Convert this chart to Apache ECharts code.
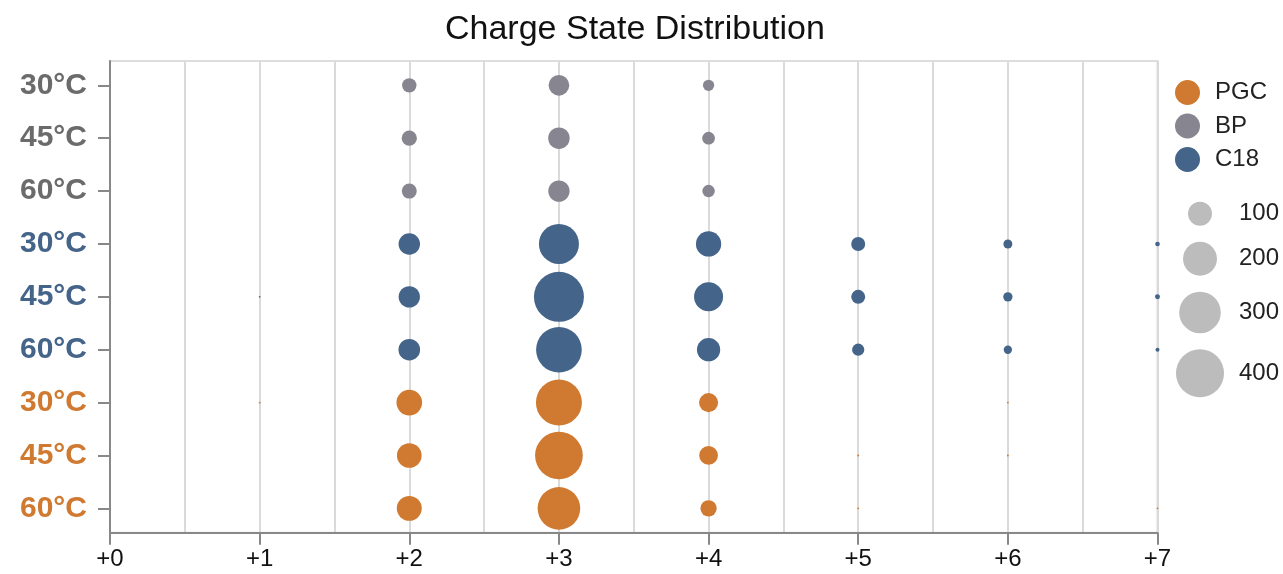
<!DOCTYPE html>
<html>
<head>
<meta charset="utf-8">
<title>Charge State Distribution</title>
<script src="https://cdn.jsdelivr.net/npm/echarts@6/dist/echarts.min.js"></script>
<style>
  html, body { margin: 0; padding: 0; background: #ffffff; }
  #chart { width: 1283px; height: 574px; }
</style>
</head>
<body>
<div id="chart"></div>
<script>
// Charge state tick labels (x axis)
const chargeLabels = ['+0', '+1', '+2', '+3', '+4', '+5', '+6', '+7'];

// Row labels, top to bottom, and the column type each row belongs to
const rowLabels = ['30°C', '45°C', '60°C', '30°C', '45°C', '60°C', '30°C', '45°C', '60°C'];
const rowGroups = ['BP', 'BP', 'BP', 'C18', 'C18', 'C18', 'PGC', 'PGC', 'PGC'];

// Abundance per charge state +0 .. +7
const bp30  = [0, 0,   36,  74,  22,  0,   0,   0];
const bp45  = [0, 0,   40,  80,  28,  0,   0,   0];
const bp60  = [0, 0,   39,  79,  27,  0,   0,   0];
const c18_30 = [0, 0,   80, 278, 111, 34,  14,  3.8];
const c18_45 = [0, 0.5, 79, 434, 146, 34,  15,  4.3];
const c18_60 = [0, 0,   81, 362,  94, 26,  12,  2.8];
const pgc30 = [0, 0.6, 114, 367, 63, 0,   0.6, 0];
const pgc45 = [0, 0,   106, 395, 61, 0.6, 0.6, 0];
const pgc60 = [0, 0,   108, 316, 46, 0.6, 0,   0.6];

// Values shown in the size legend
const sizeLegendValues = [100, 200, 300, 400];

const seriesNames = ['PGC', 'BP', 'C18'];
const colors = { PGC: '#CF7A30', BP: '#87858F', C18: '#44648A' };
const labelColors = { PGC: '#CF7A30', BP: '#6B6B6B', C18: '#44648A' };
const FONT = '"Liberation Sans", Arial, Helvetica, sans-serif';

// circle diameter in px, area proportional to value
function diameter(v) { return 2.4 * Math.sqrt(v); }

const rowsByGroup = {
  BP:  [[0, bp30], [1, bp45], [2, bp60]],
  C18: [[3, c18_30], [4, c18_45], [5, c18_60]],
  PGC: [[6, pgc30], [7, pgc45], [8, pgc60]]
};

function buildData(group) {
  const out = [];
  rowsByGroup[group].forEach(([row, vals]) => {
    vals.forEach((v, charge) => {
      if (v > 0) out.push([charge, row, v]);
    });
  });
  return out;
}

const chart = echarts.init(document.getElementById('chart'), null, { renderer: 'canvas' });

// size legend: stacked circles with labels on the right
const sizeGraphics = [];
let cy = 213.7;
sizeLegendValues.forEach((v, i) => {
  const r = diameter(v) / 2;
  if (i > 0) cy += diameter(sizeLegendValues[i - 1]) / 2 + 16 + r;
  sizeGraphics.push({
    type: 'circle',
    shape: { cx: 1200, cy: cy, r: r },
    style: { fill: '#BDBCBD' }
  });
  sizeGraphics.push({
    type: 'text',
    style: {
      text: String(v), x: 1279, y: cy, align: 'right', verticalAlign: 'middle',
      fontSize: 24, fontFamily: FONT, fill: '#222'
    }
  });
});

const rich = {};
Object.keys(labelColors).forEach(g => {
  rich[g] = { color: labelColors[g], fontSize: 30, fontWeight: 'bold', fontFamily: FONT };
});

const option = {
  animation: false,
  backgroundColor: '#ffffff',
  title: {
    text: 'Charge State Distribution',
    left: 445,
    top: 13,
    padding: 0,
    textStyle: { fontSize: 34, fontWeight: 'normal', color: '#111', fontFamily: FONT }
  },
  legend: {
    orient: 'vertical',
    left: 1175,
    top: 80,
    padding: 0,
    itemWidth: 25,
    itemHeight: 25,
    itemGap: 8.5,
    icon: 'circle',
    data: seriesNames,
    textStyle: { fontSize: 24, color: '#222', fontFamily: FONT, padding: [0, 0, 0, 10] }
  },
  grid: {
    left: 110,
    right: 125.5,
    top: 61,
    bottom: 41.3,
    show: true,
    borderColor: '#DDDDDD',
    borderWidth: 2
  },
  xAxis: [
    {
      type: 'value',
      min: 0,
      max: 7,
      interval: 1,
      position: 'bottom',
      axisLine: { show: true, onZero: false, lineStyle: { color: '#888', width: 2 } },
      axisTick: { show: true, length: 12, lineStyle: { color: '#888', width: 2 } },
      axisLabel: {
        margin: 15, fontSize: 24, color: '#111', fontFamily: FONT,
        formatter: v => chargeLabels[Math.round(v)]
      },
      splitLine: { show: true, lineStyle: { color: '#E3E3E3', width: 2 } }
    },
    {
      // half-step separators between charge states
      type: 'value',
      min: 0,
      max: 7,
      interval: 0.5,
      position: 'bottom',
      axisLine: { show: false, onZero: false },
      axisTick: { show: false },
      axisLabel: { show: false },
      splitLine: { show: true, lineStyle: { color: '#DADADA', width: 2 } }
    }
  ],
  yAxis: {
    type: 'value',
    inverse: true,
    min: -0.46,
    max: 8.46,
    position: 'left',
    axisLine: { show: true, onZero: false, lineStyle: { color: '#888', width: 2 } },
    axisTick: {
      show: true, length: 12, lineStyle: { color: '#888', width: 2 },
      customValues: rowLabels.map((_, i) => i)
    },
    axisLabel: {
      margin: 23,
      customValues: rowLabels.map((_, i) => i),
      formatter: v => {
        const i = Math.round(v);
        return '{' + rowGroups[i] + '|' + rowLabels[i] + '}';
      },
      rich: rich
    },
    splitLine: { show: false }
  },
  series: seriesNames.map(name => ({
    name: name,
    type: 'scatter',
    xAxisIndex: 0,
    yAxisIndex: 0,
    data: buildData(name),
    symbol: 'circle',
    symbolSize: d => diameter(d[2]),
    itemStyle: { color: colors[name], opacity: 1 },
    emphasis: { disabled: true }
  })),
  graphic: sizeGraphics
};

chart.setOption(option);
</script>
</body>
</html>
